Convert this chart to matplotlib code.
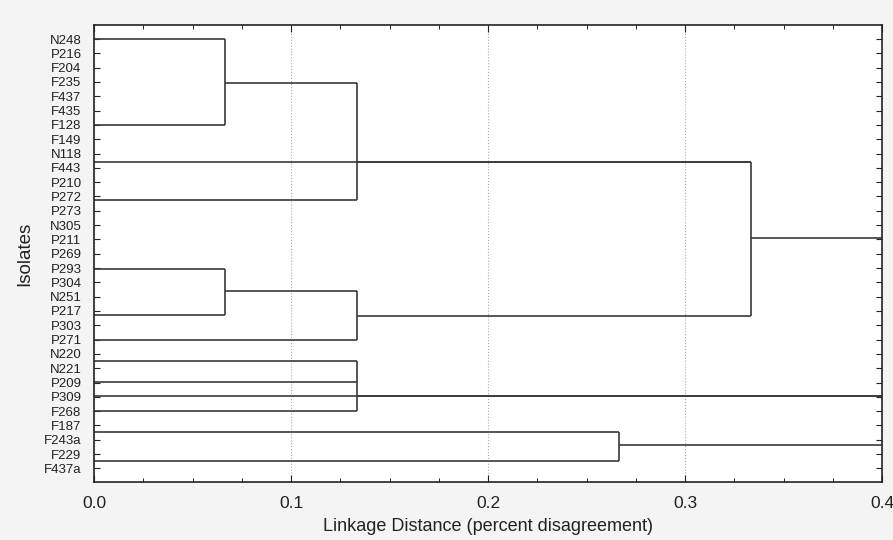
import matplotlib.pyplot as plt
from matplotlib.ticker import MultipleLocator, FormatStrFormatter

plt.rcParams['font.family'] = ['Liberation Sans', 'DejaVu Sans']

# isolates, top to bottom
isolates = ["N248", "P216", "F204", "F235", "F437", "F435", "F128", "F149",
            "N118", "F443", "P210", "P272", "P273", "N305", "P211", "P269",
            "P293", "P304", "N251", "P217", "P303", "P271", "N220", "N221",
            "P209", "P309", "F268", "F187", "F243a", "F229", "F437a"]

# branches starting at distance 0: row (in isolate units) and distance where they join
leaf_row = [0.0, 6.0, 8.56, 11.24, 16.05, 19.26, 21.0, 22.47, 23.96, 24.91, 25.96, 27.45, 29.45]
leaf_end = [0.0667, 0.0667, 0.3333, 0.1333, 0.0667, 0.0667, 0.1333, 0.1333, 0.1333, 0.4, 0.1333, 0.2667, 0.2667]

# joins: linkage distance, rows joined, outgoing row, distance the outgoing branch reaches
join_dist = [0.0667, 0.1333, 0.3333, 0.0667, 0.1333, 0.1333, 0.2667]
join_rows = [[0.0, 6.0], [3.05, 11.24], [8.56, 19.38], [16.05, 19.26],
             [17.63, 21.0], [22.47, 25.96], [27.45, 29.45]]
join_out_row = [3.05, 8.56, 13.93, 17.63, 19.38, 24.91, 28.38]
join_out_end = [0.1333, 0.3333, 0.4, 0.1333, 0.3333, 0.4, 0.4]

fig = plt.figure(figsize=(8.93, 5.4), dpi=100, facecolor='#f4f4f4')
ax = fig.add_axes([0.1053, 0.1074, 0.8824, 0.8463])
ax.set_facecolor('white')

lc = '#3a3a3a'
for r, e in zip(leaf_row, leaf_end):
    ax.plot([0, e], [r, r], color=lc, lw=1.2, solid_capstyle='butt')
for d, rows, orow, oend in zip(join_dist, join_rows, join_out_row, join_out_end):
    ax.plot([d, d], [min(rows), max(rows)], color=lc, lw=1.2, solid_capstyle='butt')
    ax.plot([d, oend], [orow, orow], color=lc, lw=1.2, solid_capstyle='butt')

ax.set_xlim(0, 0.4)
ax.set_ylim(30.95, -0.98)
ax.set_yticks(range(len(isolates)))
ax.set_yticklabels(isolates, fontsize=9.5)
ax.xaxis.set_major_locator(MultipleLocator(0.1))
ax.xaxis.set_minor_locator(MultipleLocator(0.025))
ax.xaxis.set_major_formatter(FormatStrFormatter('%.1f'))
ax.tick_params(axis='x', which='major', direction='in', length=5, top=True,
               labelsize=12.5, pad=10, colors='#222222')
ax.tick_params(axis='x', which='minor', direction='in', length=3, top=True)
ax.tick_params(axis='y', direction='in', length=4, right=True, pad=9,
               colors='#222222')
ax.grid(axis='x', which='major', linestyle=':', color='#aaaaaa', lw=0.8)
for s in ax.spines.values():
    s.set_color('#222222')
    s.set_linewidth(1.2)

ax.set_xlabel('Linkage Distance (percent disagreement)', fontsize=13, labelpad=5,
              color='#222222')
ax.set_ylabel('Isolates', fontsize=13.5, labelpad=8, color='#222222')

fig.savefig('out.png', dpi=100, facecolor=fig.get_facecolor())
